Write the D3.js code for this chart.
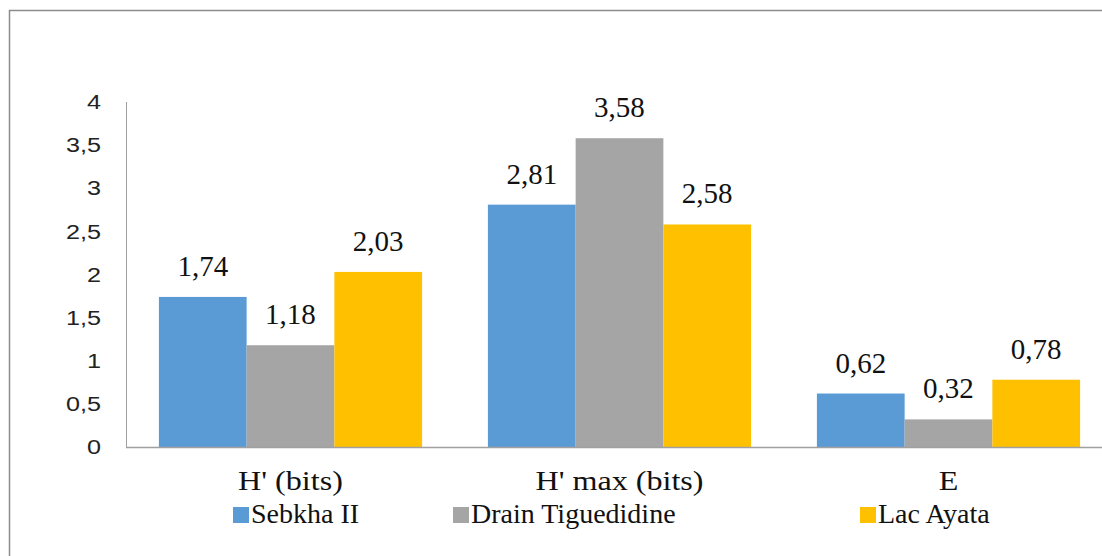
<!DOCTYPE html>
<html>
<head>
<meta charset="utf-8">
<script src="https://cdn.jsdelivr.net/npm/d3@7"></script>
<style>
  html, body { margin: 0; padding: 0; background: #fff; }
  svg { display: block; }
  .serif { font-family: "Times New Roman", "Liberation Serif", serif; }
  .sans { font-family: "Liberation Sans", Arial, sans-serif; }
</style>
</head>
<body>
<svg id="chart" width="1102" height="556"></svg>
<script>
// Diversity indices per site
const categories = ["H' (bits)", "H' max (bits)", "E"];
const seriesNames = ["Sebkha II", "Drain Tiguedidine", "Lac Ayata"];
const sebkha = [1.74, 2.81, 0.62];
const drain = [1.18, 3.58, 0.32];
const lac = [2.03, 2.58, 0.78];
const yTicks = [0, 0.5, 1, 1.5, 2, 2.5, 3, 3.5, 4];
const colors = ["#5B9BD5", "#A5A5A5", "#FFC000"];

const seriesValues = [sebkha, drain, lac];
const fmt = v => String(v).replace(".", ",");

const svg = d3.select("#chart");

// outer frame (runs past the right and bottom edges)
svg.append("rect")
  .attr("x", 9.5).attr("y", 10.5)
  .attr("width", 1200).attr("height", 600)
  .attr("fill", "none").attr("stroke", "#8c8c8c").attr("stroke-width", 1.5);

const plot = { left: 126, right: 1113, top: 102, bottom: 447 };

const x = d3.scaleBand()
  .domain(categories)
  .range([plot.left, plot.right])
  .paddingInner(0.2)
  .paddingOuter(0.1);

const xs = d3.scaleBand()
  .domain(seriesNames)
  .range([0, x.bandwidth()]);

const y = d3.scaleLinear()
  .domain([0, 4])
  .range([plot.bottom, plot.top]);

// y axis labels (slightly widened glyphs)
const stretch = 1.2;
const yAxis = svg.append("g")
  .attr("transform", `translate(${plot.left},0)`)
  .call(d3.axisLeft(y).tickValues(yTicks).tickFormat(fmt).tickSize(0).tickPadding(25));
yAxis.select(".domain").remove();
yAxis.attr("font-family", null).attr("font-size", null);
yAxis.selectAll("text")
  .attr("class", "sans")
  .attr("x", -25 / stretch)
  .attr("transform", `scale(${stretch},1)`)
  .style("font-size", "21px")
  .attr("fill", "#222");

// bars
const groups = svg.append("g").selectAll("g")
  .data(categories)
  .join("g")
  .attr("transform", d => `translate(${x(d)},0)`);

groups.selectAll("rect")
  .data((c, i) => seriesNames.map((s, j) => ({ s, j, v: seriesValues[j][i] })))
  .join("rect")
  .attr("x", d => xs(d.s))
  .attr("width", xs.bandwidth())
  .attr("y", d => y(d.v))
  .attr("height", d => y(0) - y(d.v))
  .attr("fill", d => colors[d.j]);

groups.selectAll("text")
  .data((c, i) => seriesNames.map((s, j) => ({ s, j, v: seriesValues[j][i] })))
  .join("text")
  .attr("class", "serif")
  .attr("x", d => xs(d.s) + xs.bandwidth() / 2)
  .attr("y", d => y(d.v) - 21)
  .attr("text-anchor", "middle")
  .style("font-size", "29px")
  .attr("fill", "#111")
  .text(d => fmt(d.v));

// axis lines
svg.append("line")
  .attr("x1", plot.left + 0.5).attr("x2", plot.left + 0.5)
  .attr("y1", plot.top).attr("y2", plot.bottom)
  .attr("stroke", "#a0a0a0").attr("stroke-width", 1);
svg.append("line")
  .attr("x1", plot.left).attr("x2", 1102)
  .attr("y1", plot.bottom + 0.5).attr("y2", plot.bottom + 0.5)
  .attr("stroke", "#a0a0a0").attr("stroke-width", 1.5);

// category labels
svg.append("g").selectAll("text")
  .data(categories)
  .join("text")
  .attr("class", "serif")
  .attr("transform", d => `translate(${x(d) + x.bandwidth() / 2},490) scale(1.19,1)`)
  .attr("text-anchor", "middle")
  .style("font-size", "27px")
  .attr("fill", "#111")
  .text(d => d);

// legend
const legendX = [233, 453, 860];
const legend = svg.append("g").selectAll("g")
  .data(seriesNames)
  .join("g")
  .attr("transform", (d, i) => `translate(${legendX[i]},507)`);
legend.append("rect")
  .attr("width", 16).attr("height", 16)
  .attr("fill", (d, i) => colors[i]);
legend.append("text")
  .attr("class", "serif")
  .attr("x", 18).attr("y", 16)
  .style("font-size", "28px")
  .attr("fill", "#111")
  .text(d => d);
</script>
</body>
</html>
